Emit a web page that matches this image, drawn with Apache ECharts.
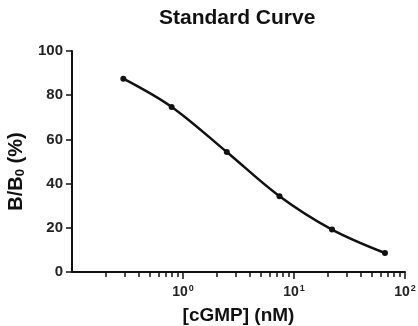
<!DOCTYPE html>
<html>
<head>
<meta charset="utf-8">
<script src="https://cdn.jsdelivr.net/npm/echarts@6/dist/echarts.min.js"></script>
<style>
  html, body { margin: 0; padding: 0; background: #fff; }
  #chart { width: 418px; height: 326px; }
</style>
</head>
<body>
<div id="chart"></div>
<script>
// concentrations (nM) and B/B0 (%)
const conc = [0.29, 0.79, 2.48, 7.4, 22, 66]
const bb0 = [87.5, 74.7, 54.3, 34.3, 19.2, 8.6]
const yTicks = [0, 20, 40, 60, 80, 100]
const decades = [1, 10, 100]
const minorTicks = [
  0.2, 0.3, 0.4, 0.5, 0.6, 0.7, 0.8, 0.9,
  2, 3, 4, 5, 6, 7, 8, 9,
  20, 30, 40, 50, 60, 70, 80, 90
]

const font = 'Arial, "Liberation Sans", sans-serif'
const chart = echarts.init(document.getElementById('chart'))

const option = {
  animation: false,
  title: {
    text: 'Standard Curve',
    left: 154,
    top: 3,
    textStyle: { fontFamily: font, fontSize: 21, fontWeight: 'bold', color: '#111' }
  },
  grid: { left: 72, right: 13, top: 51, bottom: 54, containLabel: false, outerBoundsMode: 'none' },
  xAxis: [
    {
      type: 'log',
      min: 0.1,
      max: 100,
      name: '[cGMP] (nM)',
      nameLocation: 'middle',
      nameGap: 34,
      nameTextStyle: { fontFamily: font, fontSize: 19, fontWeight: 'bold', color: '#111' },
      axisLine: { lineStyle: { color: '#111', width: 2 } },
      axisTick: { show: true, length: 5, customValues: minorTicks, lineStyle: { color: '#111', width: 1.5 } },
      axisLabel: { show: false },
      splitLine: { show: false },
      minorTick: { show: false }
    },
    {
      type: 'log',
      min: 0.1,
      max: 100,
      position: 'bottom',
      axisLine: { show: false },
      axisTick: { show: true, length: 7, customValues: decades, lineStyle: { color: '#111', width: 1.5 } },
      axisLabel: {
        customValues: decades,
        margin: 12,
        fontFamily: font,
        fontSize: 14,
        fontWeight: 'bold',
        color: '#222',
        formatter: v => '10{sup|' + Math.round(Math.log10(v)) + '}',
        rich: {
          sup: { fontFamily: font, fontSize: 9, fontWeight: 'bold', color: '#222', verticalAlign: 'top', padding: [0, 0, 8, 1] }
        }
      },
      splitLine: { show: false }
    }
  ],
  yAxis: {
    type: 'value',
    min: 0,
    max: 100,
    interval: 20,
    name: 'B/B{sub|0} (%)',
    nameLocation: 'middle',
    nameGap: 44,
    nameTextStyle: {
      fontFamily: font, fontSize: 20, fontWeight: 'bold', color: '#111',
      padding: [0, 20, 0, 0],
      rich: {
        sub: { fontFamily: font, fontSize: 13, fontWeight: 'bold', color: '#111', padding: [9, 0, 0, 0] }
      }
    },
    axisLine: { show: true, lineStyle: { color: '#111', width: 2 } },
    axisTick: { show: true, length: 6, lineStyle: { color: '#111', width: 1.5 } },
    axisLabel: {
      margin: 9,
      fontFamily: font,
      fontSize: 15,
      fontWeight: 'bold',
      color: '#222',
      customValues: yTicks
    },
    splitLine: { show: false }
  },
  series: [
    {
      type: 'line',
      xAxisIndex: 0,
      data: conc.map((c, i) => [c, bb0[i]]),
      smooth: 0.35,
      symbol: 'circle',
      symbolSize: 6,
      itemStyle: { color: '#111' },
      lineStyle: { color: '#111', width: 2.5 }
    }
  ]
}

chart.setOption(option)
</script>
</body>
</html>
